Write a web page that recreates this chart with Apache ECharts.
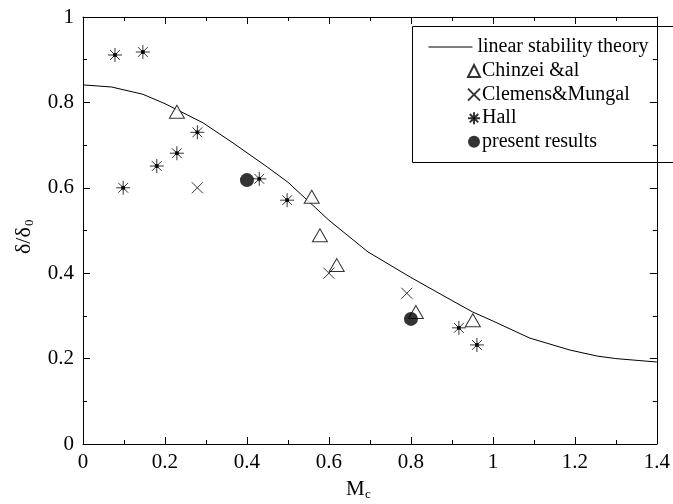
<!DOCTYPE html>
<html>
<head>
<meta charset="utf-8">
<script src="https://cdn.jsdelivr.net/npm/echarts@6/dist/echarts.min.js"></script>
<style>
  html, body { margin: 0; padding: 0; background: #fff; }
  #chart { width: 673px; height: 504px; }
</style>
</head>
<body>
<div id="chart"></div>
<script>
'use strict';

// linear stability theory curve
var theoryMc = [0, 0.07, 0.146, 0.2, 0.293, 0.366, 0.449, 0.5, 0.6, 0.695, 0.8, 0.9, 0.951, 1.0, 1.09, 1.188, 1.254, 1.3, 1.4];
var theoryVal = [0.841, 0.836, 0.819, 0.797, 0.752, 0.705, 0.649, 0.613, 0.524, 0.45, 0.39, 0.336, 0.309, 0.288, 0.248, 0.22, 0.206, 0.2, 0.192];

// measurements
var chinzeiMc = [0.229, 0.558, 0.578, 0.619, 0.812, 0.951];
var chinzeiVal = [0.778, 0.579, 0.489, 0.419, 0.309, 0.290];

var clemensMc = [0.279, 0.6, 0.79];
var clemensVal = [0.6, 0.40, 0.353];

var hallMc = [0.078, 0.146, 0.098, 0.18, 0.229, 0.279, 0.43, 0.498, 0.917, 0.961];
var hallVal = [0.911, 0.918, 0.6, 0.651, 0.681, 0.730, 0.621, 0.571, 0.272, 0.232];

var presentMc = [0.4, 0.8];
var presentVal = [0.618, 0.293];

function pairs(xs, ys) {
    var out = [];
    for (var i = 0; i < xs.length; i++) {
        out.push([xs[i], ys[i]]);
    }
    return out;
}

var FONT = 'Liberation Serif';
var crossPath = 'path://M0,0L10,10M10,0L0,10';
var starPath = 'path://M0,5L10,5M5,0L5,10M1.5,1.5L8.5,8.5M8.5,1.5L1.5,8.5M4,4L6,4L6,6L4,6Z';

var chart = echarts.init(document.getElementById('chart'));

// 四边都画刻度，朝内
function makeAxis(extra) {
    return Object.assign({
        type: 'value',
        show: true,
        min: 0,
        interval: 0.2,
        axisLine: { show: true, onZero: false, lineStyle: { color: '#000', width: 1 } },
        axisTick: { show: true, inside: true, length: 7, lineStyle: { color: '#000', width: 1 } },
        minorTick: { show: true, splitNumber: 2, length: 4, lineStyle: { color: '#000', width: 1 } },
        splitLine: { show: false },
        axisLabel: { show: false }
    }, extra);
}

function txt(text, x, y, size, extra) {
    return Object.assign({
        type: 'text',
        x: x,
        y: y,
        style: { text: text, fill: '#000', font: size + 'px "' + FONT + '"', textAlign: 'left', textVerticalAlign: 'middle' },
        z: 10
    }, extra || {});
}

var option = {
    backgroundColor: '#fff',
    animation: false,
    grid: { left: 83, right: 16, top: 17, bottom: 60 },
    xAxis: [
        makeAxis({
            max: 1.4,
            position: 'bottom',
            axisLabel: { show: true, color: '#000', fontFamily: FONT, fontSize: 21, margin: 8,
                formatter: function(v) { return String(+v.toFixed(1)); } }
        }),
        makeAxis({ max: 1.4, position: 'top' })
    ],
    yAxis: [
        makeAxis({
            max: 1,
            position: 'left',
            axisLabel: { show: true, color: '#000', fontFamily: FONT, fontSize: 21, margin: 9,
                formatter: function(v) { return String(+v.toFixed(1)); } }
        }),
        makeAxis({ max: 1, position: 'right' })
    ],
    graphic: [{
        type: 'rect',
        shape: { x: 412.5, y: 26.5, width: 270, height: 136 },
        style: { fill: '#fff', stroke: '#000', lineWidth: 1 },
        z: 0
    },
    // 坐标轴标题
    txt('M', 346, 489, 21),
    txt('c', 365, 495, 13),
    {
        type: 'group',
        x: 24,
        y: 234,
        rotation: Math.PI / 2,
        children: [
            txt('δ/δ', -20, 0, 22),
            txt('0', 8, 6, 13)
        ]
    }],
    legend: [{
        left: 423,
        top: 32,
        itemWidth: 44,
        itemHeight: 10,
        data: ['linear stability theory'],
        itemStyle: { opacity: 0 },
        lineStyle: { color: '#000', width: 1 },
        textStyle: { color: '#000', fontFamily: FONT, fontSize: 20 },
        z: 5
    }, {
        left: 462,
        top: 56,
        orient: 'vertical',
        itemWidth: 12,
        itemHeight: 12,
        itemGap: 3.6,
        data: ['Chinzei &al', 'Clemens&Mungal', 'Hall', 'present results'],
        textStyle: { color: '#000', fontFamily: FONT, fontSize: 20, padding: [0, 0, 0, -3] },
        z: 5
    }],
    series: [{
        name: 'linear stability theory',
        type: 'line',
        data: pairs(theoryMc, theoryVal),
        showSymbol: false,
        symbol: 'none',
        lineStyle: { color: '#000', width: 1 },
        itemStyle: { color: '#000' },
        z: 1
    }, {
        name: 'Chinzei &al',
        type: 'scatter',
        data: pairs(chinzeiMc, chinzeiVal),
        symbol: 'triangle',
        symbolSize: [15, 13],
        itemStyle: { color: '#fff', borderColor: '#000', borderWidth: 1 },
        z: 3
    }, {
        name: 'Clemens&Mungal',
        type: 'scatter',
        data: pairs(clemensMc, clemensVal),
        symbol: crossPath,
        symbolSize: 11,
        itemStyle: { color: '#000', borderColor: '#000', borderWidth: 1 },
        z: 3
    }, {
        name: 'Hall',
        type: 'scatter',
        data: pairs(hallMc, hallVal),
        symbol: starPath,
        symbolSize: 14,
        itemStyle: { color: '#000', borderColor: '#000', borderWidth: 1 },
        z: 3
    }, {
        name: 'present results',
        type: 'scatter',
        data: pairs(presentMc, presentVal),
        symbol: 'circle',
        symbolSize: 14,
        itemStyle: { color: '#000' },
        z: 3
    }]
};

chart.setOption(option);
</script>
</body>
</html>
